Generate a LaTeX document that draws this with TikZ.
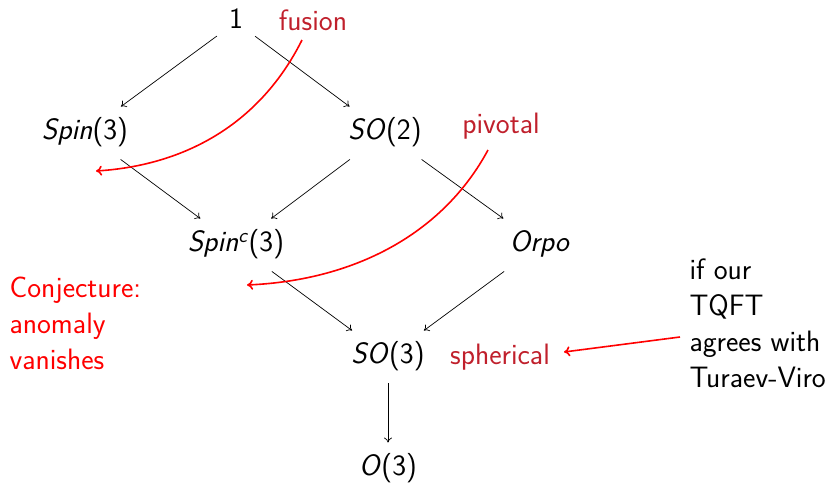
\documentclass[tikz,border=0pt]{standalone}
\usetikzlibrary{arrows.meta}
\definecolor{alertred}{RGB}{192,32,44}
\definecolor{brightred}{RGB}{255,0,0}
\begin{document}
\begin{tikzpicture}[x=1pt,y=-1pt,
  every node/.style={font=\fontsize{29.5}{36}\selectfont\sffamily},
  obj/.style={inner sep=12pt, minimum width=0pt, text height=21pt, text depth=7.5pt},
  arr/.style={-{To[length=5pt,width=8pt]}, line width=0.7pt},
  redarr/.style={-{To[length=6pt,width=10pt]}, draw=brightred, line width=1.6pt},
  lbl/.style={text=alertred},
  note/.style={align=left, anchor=west}]
\useasboundingbox (0,0) rectangle (836,488);
\node[obj] (one) at (236,22) {1};
\node[obj] (spin) at (85,133) {\textsl{Spin}(3)};
\node[obj] (so2) at (385,133) {\textsl{SO}(2)};
\node[obj] (spinc) at (236,245) {\textsl{Spin}\textsuperscript{\textsl{c}}(3)};
\node[obj] (orpo) at (540,245) {\textsl{Orpo}};
\node[obj] (so3) at (388,357) {\textsl{SO}(3)};
\node[obj] (o3) at (388,469) {\textsl{O}(3)};
\draw[arr] (one) -- (spin);
\draw[arr] (one) -- (so2);
\draw[arr] (spin) -- (spinc);
\draw[arr] (so2) -- (spinc);
\draw[arr] (so2) -- (orpo);
\draw[arr] (spinc) -- (so3);
\draw[arr] (orpo) -- (so3);
\draw[arr] (so3) -- (o3);
\node[lbl] (fusion) at (313,20) {fusion};
\node[lbl] (pivotal) at (501,126) {pivotal};
\node[lbl] (spherical) at (500,357) {spherical};
\node[note, text=brightred] (conj) at (6,323) {Conjecture:\\anomaly\\vanishes};
\node[note] (tv) at (686,323) {if our\\TQFT\\agrees with\\Turaev-Viro};
\coordinate (fs) at (302,40);
\coordinate (fe) at (96,171);
\coordinate (ps) at (488,150);
\coordinate (pe) at (247,285);
\coordinate (ss) at (680,337);
\coordinate (se) at (564,352);
\draw[redarr] (fs) .. controls (262,120) and (190,165) .. (fe);
\draw[redarr] (ps) .. controls (445,230) and (360,280) .. (pe);
\draw[redarr] (ss) -- (se);
\end{tikzpicture}
\end{document}
